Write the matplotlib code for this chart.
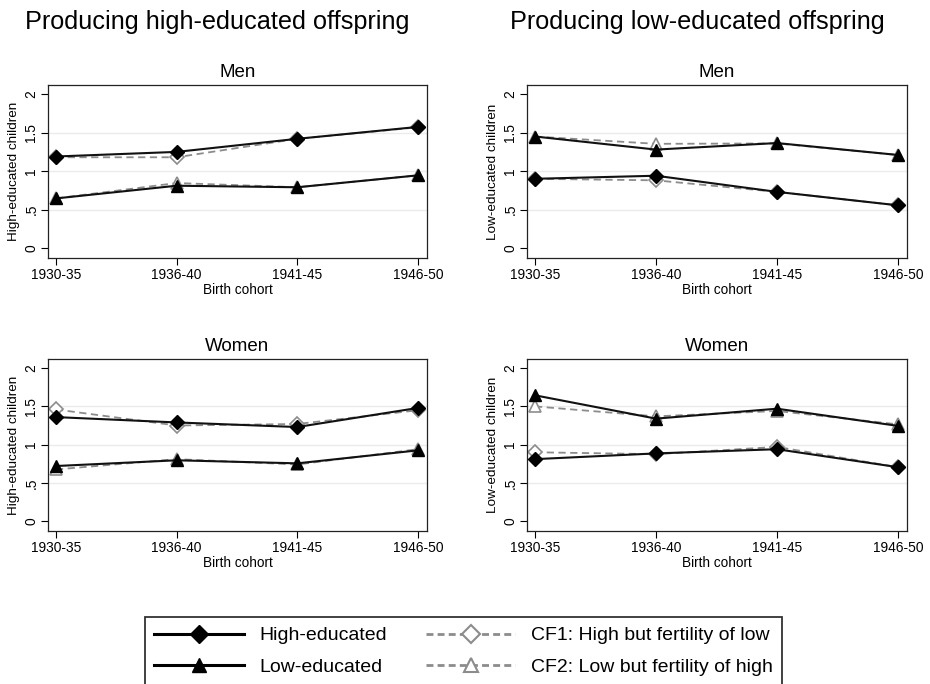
import numpy as np
import matplotlib
matplotlib.use("Agg")
import matplotlib.pyplot as plt
from matplotlib.lines import Line2D

plt.rcParams['font.family'] = ['Liberation Sans', 'DejaVu Sans']

cohorts = ['1930-35', '1936-40', '1941-45', '1946-50']

# high-educated children
men_high_hi = [1.19, 1.25, 1.42, 1.575]
men_high_cf1 = [1.18, 1.18, 1.42, 1.57]
men_high_lo = [0.645, 0.81, 0.79, 0.945]
men_high_cf2 = [0.645, 0.845, 0.79, 0.945]
wom_high_hi = [1.36, 1.29, 1.23, 1.48]
wom_high_cf1 = [1.46, 1.25, 1.27, 1.45]
wom_high_lo = [0.72, 0.795, 0.755, 0.925]
wom_high_cf2 = [0.675, 0.81, 0.74, 0.94]

# low-educated children
men_low_hi = [0.90, 0.94, 0.73, 0.555]
men_low_cf1 = [0.90, 0.88, 0.73, 0.555]
men_low_lo = [1.45, 1.28, 1.365, 1.21]
men_low_cf2 = [1.45, 1.355, 1.36, 1.21]
wom_low_hi = [0.81, 0.885, 0.94, 0.705]
wom_low_cf1 = [0.90, 0.875, 0.97, 0.705]
wom_low_lo = [1.645, 1.34, 1.47, 1.245]
wom_low_cf2 = [1.50, 1.37, 1.44, 1.265]

grey = '#8c8c8c'


def draw(ax, hi, cf1, lo, cf2, title, ylab):
    x = np.arange(len(cohorts))
    for g in [0.5, 1.0, 1.5]:
        ax.axhline(g, color='#ebebeb', lw=1, zorder=0)
    ax.plot(x, cf1, '--', color=grey, lw=1.3, dashes=(4, 2.5), marker='D', ms=7,
            mfc='white', mec=grey, mew=1.2, zorder=2)
    ax.plot(x, cf2, '--', color=grey, lw=1.3, dashes=(4, 2.5), marker='^', ms=8,
            mfc='white', mec=grey, mew=1.2, zorder=2)
    ax.plot(x, hi, '-', color='#111111', lw=1.5, marker='D', ms=7, mfc='black', mec='black', zorder=3)
    ax.plot(x, lo, '-', color='#111111', lw=1.5, marker='^', ms=8, mfc='black', mec='black', zorder=3)
    ax.set_xlim(-0.066, 3.075)
    ax.set_ylim(-0.13, 2.12)
    ax.set_xticks(x)
    ax.set_xticklabels(cohorts, fontsize=9.9)
    ax.set_yticks([0, 0.5, 1, 1.5, 2])
    ax.set_yticklabels(['0', '.5', '1', '1.5', '2'], fontsize=9.9, rotation=90, va='center')
    ax.set_xlabel('Birth cohort', fontsize=9.8, labelpad=1)
    ax.set_ylabel(ylab, fontsize=9.7, labelpad=3)
    ax.set_title(title, fontsize=13.5, pad=6)
    ax.tick_params(direction='out', length=5, width=0.8, pad=2)
    for s in ax.spines.values():
        s.set_linewidth(0.9)
        s.set_color('#222222')


fig = plt.figure(figsize=(9.3, 6.84), dpi=100)

ax1 = fig.add_axes([48/930, 1-258/684, 379/930, 173/684])
ax2 = fig.add_axes([527/930, 1-258/684, 380/930, 173/684])
ax3 = fig.add_axes([48/930, 1-531/684, 379/930, 172/684])
ax4 = fig.add_axes([527/930, 1-531/684, 380/930, 172/684])

draw(ax1, men_high_hi, men_high_cf1, men_high_lo, men_high_cf2, 'Men', 'High-educated children')
draw(ax2, men_low_hi, men_low_cf1, men_low_lo, men_low_cf2, 'Men', 'Low-educated children')
draw(ax3, wom_high_hi, wom_high_cf1, wom_high_lo, wom_high_cf2, 'Women', 'High-educated children')
draw(ax4, wom_low_hi, wom_low_cf1, wom_low_lo, wom_low_cf2, 'Women', 'Low-educated children')

fig.text(25/930, 1-22/684, 'Producing high-educated offspring', fontsize=18.2, va='center', ha='left')
fig.text(510/930, 1-22/684, 'Producing low-educated offspring', fontsize=18.2, va='center', ha='left')

handles = [
    Line2D([], [], color='black', lw=2.2, marker='D', ms=9, mfc='black', mec='black'),
    Line2D([], [], color='black', lw=2.2, marker='^', ms=10, mfc='black', mec='black'),
    Line2D([], [], color=grey, lw=2, ls='--', dashes=(2.5, 1.5), marker='D', ms=9, mfc='white', mec=grey, mew=1.5),
    Line2D([], [], color=grey, lw=2, ls='--', dashes=(2.5, 1.5), marker='^', ms=10, mfc='white', mec=grey, mew=1.5),
]
labels = ['High-educated', 'Low-educated', 'CF1: High but fertility of low', 'CF2: Low but fertility of high']
leg = fig.legend(handles, labels, ncol=2, loc='upper center', bbox_to_anchor=(463.5/930, 1-617/684),
                 fontsize=14, frameon=True, fancybox=False, edgecolor='black', handlelength=4.6,
                 handletextpad=0.8, columnspacing=2.0, labelspacing=0.7, borderpad=0.5,
                 borderaxespad=0)
leg.get_frame().set_linewidth(1.3)

fig.savefig('out.png', dpi=100)
